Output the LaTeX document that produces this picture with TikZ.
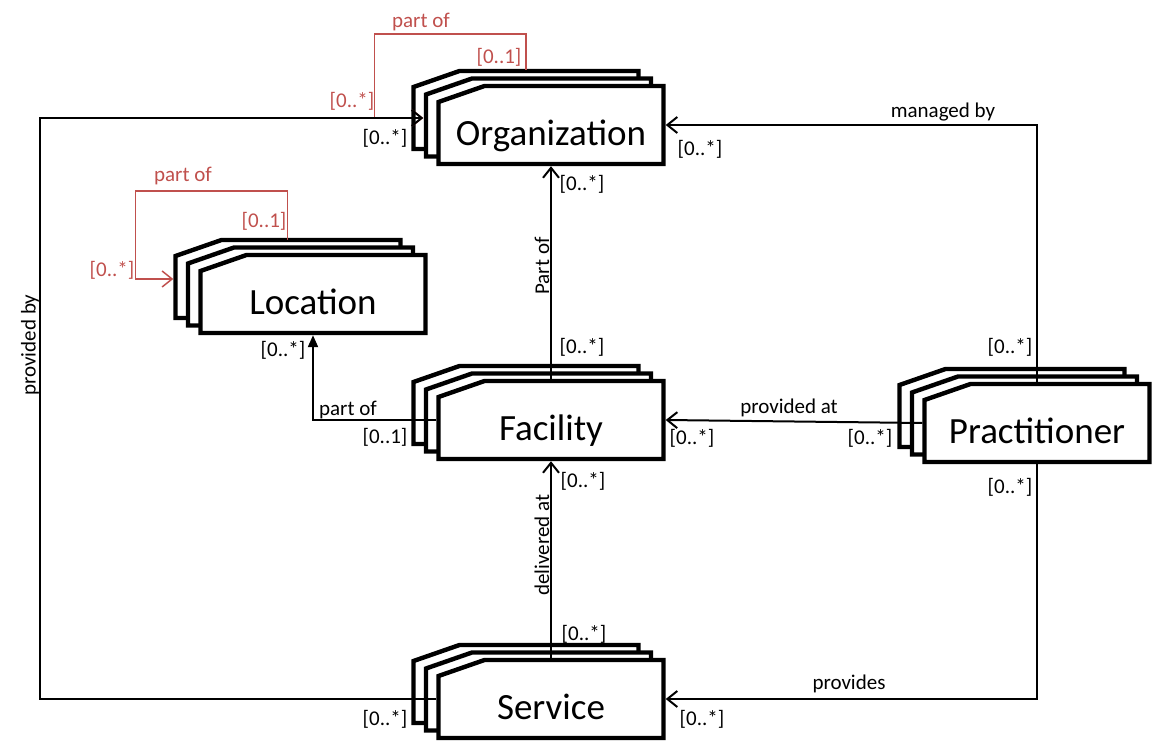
\documentclass[tikz,border=0pt]{standalone}
\usepackage{fontspec}
\setmainfont{Carlito}
\usetikzlibrary{arrows.meta,calc}

\definecolor{loopred}{HTML}{C0504D}

% three stacked cards, the front one carries the name
\newcommand\cardstack[4]{%
  \foreach \k in {2,1,0}
    \draw[card] ({#2-112.5-12.5*\k},{#3+39-7.5*\k}) -- ++(225,0) -- ++(0,-78)
      -- ++(-179,0) -- ++(-46,16) -- cycle;
  \node[cardtext] (#1) at (#2,#3) {#4};
}

\begin{document}
\begin{tikzpicture}[
  x=0.5pt, y=-0.5pt,
  card/.style={draw, line width=2.2pt, fill=white},
  cardtext/.style={minimum width=112.5pt, minimum height=39pt, inner sep=0pt, outer sep=1.1pt,
    text height=21pt, text depth=0pt, font=\fontsize{18.5}{22}\selectfont},
  conn/.style={line width=1pt},
  selfloop/.style={line width=0.75pt, draw=loopred},
  lbl/.style={inner sep=0pt, font=\fontsize{10.5}{12}\selectfont},
  redlbl/.style={lbl, text=loopred},
  >={Straight Barb[length=5pt, width=8pt]}
]
\useasboundingbox (0,0) rectangle (1153,753);

\cardstack{org}{551}{125}{Organization}
\cardstack{loc}{313}{294}{Location}
\cardstack{fac}{551}{420}{Facility}
\cardstack{serv}{551}{699}{Service}
\cardstack{prac}{1037}{423}{Practitioner}

% self references
\coordinate (orgloop) at ($(org.north)+(-25,-14)$);
\coordinate (orgin) at ($(org.west)+(-13,-7)$);
\draw[selfloop, ->] (orgloop) -- ++(0,-36) -| ([xshift=-24.5pt]orgin) -- (orgin);
\coordinate (locloop) at ($(loc.north)+(-25.5,-13)$);
\coordinate (locin) at ($(loc.west)+(-25,-15)$);
\draw[selfloop, ->] (locloop) -- ++(0,-49) -| ([xshift=-19pt]locin) -- (locin);

% associations
\draw[conn, ->] (fac.north) -- (org.south);
\draw[conn, ->] (serv.north) -- (fac.south);
\draw[conn, ->] (prac.west) -- (fac.east);
\draw[conn, ->] (prac.north) |- (org.east);
\draw[conn, ->] (prac.south) |- (serv.east);
\draw[conn, -{Triangle[length=6pt, width=5pt]}] (fac.west) -| (loc.south);
\coordinate (pbx) at (40,0);
\draw[conn, ->] (serv.west) -- (serv.west -| pbx) |- (orgin);

% labels
\node[redlbl] (orgpart) at (421,22) {part of};
\node[redlbl] (orgone) at (499,57) {[0..1]};
\node[redlbl] (orgmany) at (352,101) {[0..*]};
\node[redlbl] (locpart) at (183,176) {part of};
\node[redlbl] (locone) at (264,221) {[0..1]};
\node[redlbl] (locmany) at (112,270) {[0..*]};

\node[lbl] (pbto) at (385,138) {[0..*]};
\node[lbl] (pbfrom) at (385,719) {[0..*]};
\node[lbl, rotate=90] (pb) at (30,345) {provided by};

\node[lbl] (mbto) at (700,149) {[0..*]};
\node[lbl] (mb) at (943,112) {managed by};
\node[lbl] (mbfrom) at (1010,347) {[0..*]};

\node[lbl] (poto) at (582,184) {[0..*]};
\node[lbl, rotate=90] (po) at (542,266) {Part of};
\node[lbl] (pofrom) at (582,347) {[0..*]};

\node[lbl] (lpto) at (283,350) {[0..*]};
\node[lbl] (lp) at (348,410) {part of};
\node[lbl] (lpfrom) at (385,437) {[0..1]};

\node[lbl] (pato) at (692,438) {[0..*]};
\node[lbl] (pa) at (789,408) {provided at};
\node[lbl] (pafrom) at (870,438) {[0..*]};

\node[lbl] (dato) at (583,481) {[0..*]};
\node[lbl, rotate=90] (da) at (542,545) {delivered at};
\node[lbl] (dafrom) at (584,634) {[0..*]};

\node[lbl] (prfrom) at (1010,487) {[0..*]};
\node[lbl] (pr) at (849,684) {provides};
\node[lbl] (prto) at (702,719) {[0..*]};
\end{tikzpicture}
\end{document}
